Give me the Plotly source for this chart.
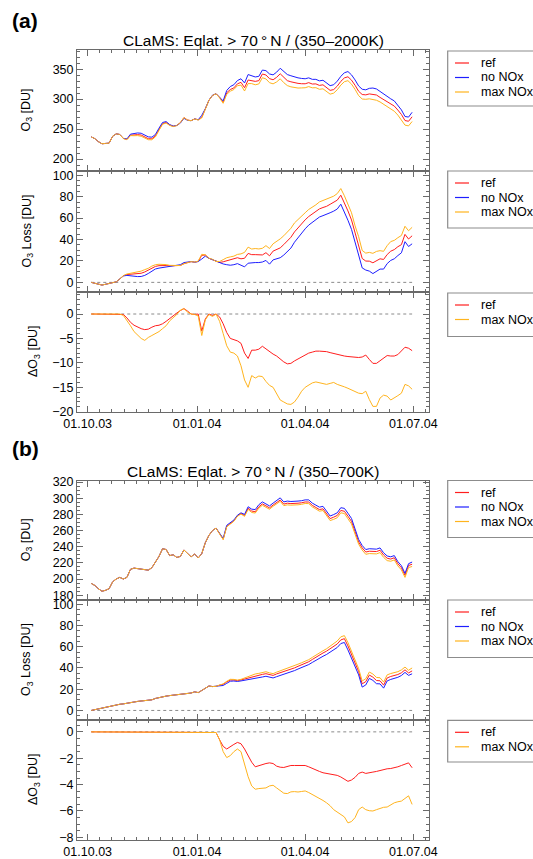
import pandas as pd
import plotly.graph_objects as go

# ---------------- data (3-day sampling, 2003-10-04 ... 2004-06-30) ----------------
dates = pd.date_range("2003-10-04", periods=91, freq="3D")

# (a) 350-2000K
a_o3_nonox = [237, 234, 229, 225.5, 226, 226.5, 238, 242, 241, 234.5,
              233.5, 241.5, 242.5, 243.5, 243, 240.5, 237, 236.5, 241, 251.5,
              261, 262.5, 257.5, 255, 256, 260, 268, 264.5, 264, 267,
              265.5, 273, 284, 298, 306.5, 309, 303.5, 297, 314.5, 321,
              324, 331, 334, 327, 341, 338.5, 337, 338, 348.5, 347.5,
              342, 340.5, 345, 351.5, 345.5, 341, 339, 337, 335.5, 334.5,
              334, 335.5, 333, 333, 330.5, 331.5, 327, 322.5, 324, 330,
              338, 344, 346, 340.5, 332, 322, 316.5, 315.5, 318, 318.5,
              317, 312.5, 308, 304, 300.5, 297, 290, 282, 271, 270,
              278]
a_o3_ref = [237, 234, 229, 225.5, 226, 226.5, 238, 242, 241, 234.4,
            232.7, 239.8, 240.2, 240.8, 240, 237.3, 233.9, 233.8, 238.6, 249.2,
            259, 261, 256.6, 254.6, 256.2, 260.7, 269.1, 265.1, 264, 266.9,
            265.5, 269.5, 283, 298, 306.2, 309, 302.9, 295, 310.7, 316,
            318.7, 325.5, 328, 319, 331.9, 331.1, 329.6, 330.8, 341.9, 340.3,
            334.2, 332.3, 336.4, 342.3, 335.7, 330.8, 328.9, 327.4, 326.3, 325.7,
            325.6, 327.5, 325.2, 325.4, 322.9, 323.9, 319.3, 314.6, 315.9, 321.7,
            329.6, 335.4, 337.3, 331.7, 323.1, 313.1, 307.7, 307.1, 308.7, 308.4,
            306.9, 302.9, 299, 295.5, 291.9, 288.4, 281.7, 274.4, 264.2, 263,
            270.5]
a_o3_maxnox = [237, 234, 229, 225.5, 226, 226.5, 238, 242, 241, 234.2,
               232.2, 239.1, 238.9, 239.1, 238, 235.1, 232.2, 232.1, 237, 247.9,
               258, 260.1, 256.1, 254.2, 255.9, 260.8, 269.1, 264.9, 264, 266.9,
               265.1, 268.6, 282.8, 297.9, 306, 309, 302, 293, 308, 313.2,
               316, 322.4, 323.4, 313.5, 326, 325.9, 323.9, 325.3, 335.7, 333.7,
               327.4, 325.5, 328.7, 333.9, 327.5, 322.6, 320.5, 319, 318.5, 318.7,
               319, 320.9, 318.9, 319.1, 316.4, 317.2, 312.6, 308.3, 310, 315.6,
               323.4, 329.1, 330.8, 325, 316.2, 305.8, 300.2, 299.7, 300.5, 299.6,
               298.1, 295.3, 291.4, 287.2, 282.9, 279.8, 273.3, 265.8, 256.6, 255.3,
               262.6]

a_loss_nonox = [0, -0.6, -1.2, -2.5, -1.8, -0.8, -0.3, 0.5, 3.2, 6.0,
                6.5, 6.0, 5.6, 5.4, 5.5, 6.5, 8.3, 10.8, 12.5, 13.3,
                13.8, 14.2, 14.5, 15, 15.5, 16.5, 18.5, 19, 19.4, 18.8,
                19.5, 21.8, 24.5, 22.5, 21, 19.5, 18, 17.2, 16.5, 16,
                16.5, 17.5, 16, 14.5, 17.9, 18.5, 18.5, 18.5, 19, 20.5,
                17, 21, 21.8, 23, 25.5, 28.5, 32, 37.5, 42, 46.5,
                50, 53.5, 56, 58.5, 61, 62.3, 63.3, 65, 66.5, 68.5,
                73, 66, 58, 49.5, 37, 26.5, 13.5, 11.5, 10.5, 8.2,
                10, 12.4, 12.4, 17.5, 20.5, 22, 25, 27.6, 38, 33.5,
                36]
a_loss_ref = [0, -0.6, -1.2, -2.5, -1.8, -0.8, -0.3, 0.5, 3.2, 6.1,
              7.3, 7.7, 7.9, 8.1, 8.5, 9.7, 11.4, 13.5, 14.9, 15.6,
              15.8, 15.7, 15.4, 15.4, 15.3, 15.8, 17.4, 18.4, 19.4, 18.9,
              19.5, 25.3, 25.5, 22.5, 21.3, 19.5, 18.6, 19.2, 20.3, 21,
              21.8, 23, 22, 22.5, 27, 25.9, 25.9, 25.7, 25.6, 27.7,
              24.8, 29.2, 30.4, 32.2, 35.3, 38.7, 42.1, 47.1, 51.2, 55.3,
              58.4, 61.5, 63.8, 66.1, 68.6, 69.9, 71, 72.9, 74.6, 76.8,
              81.4, 74.6, 66.7, 58.3, 45.9, 35.4, 22.3, 19.9, 19.8, 18.3,
              20.1, 22, 21.4, 26, 29.1, 30.6, 33.3, 35.2, 44.8, 40.5,
              43.5]
a_loss_maxnox = [0, -0.6, -1.2, -2.5, -1.8, -0.8, -0.3, 0.5, 3.2, 6.3,
                 7.8, 8.4, 9.2, 9.8, 10.5, 11.9, 13.1, 15.2, 16.5, 16.9,
                 16.8, 16.6, 15.9, 15.8, 15.6, 15.7, 17.4, 18.6, 19.4, 18.9,
                 19.9, 26.2, 25.7, 22.6, 21.5, 19.5, 19.5, 21.2, 23, 23.8,
                 24.5, 26.1, 26.6, 28, 32.9, 31.1, 31.6, 31.2, 31.8, 34.3,
                 31.6, 36, 38.1, 40.6, 43.5, 46.9, 50.5, 55.5, 59, 62.3,
                 65, 68.1, 70.1, 72.4, 75.1, 76.6, 77.7, 79.2, 80.5, 82.9,
                 87.6, 80.9, 73.2, 65, 52.8, 42.7, 29.8, 27.3, 28, 27.1,
                 28.9, 29.6, 29, 34.3, 38.1, 39.2, 41.7, 43.8, 52.4, 48.2,
                 51.4]

a_d_ref = [0, 0, 0, 0, 0, 0, 0, 0, 0, -0.1,
           -0.8, -1.7, -2.3, -2.7, -3.0, -3.2, -3.1, -2.7, -2.4, -2.3,
           -2.0, -1.5, -0.9, -0.4, 0.2, 0.7, 1.1, 0.6, 0, -0.1,
           0, -3.5, -1.0, 0, -0.3, 0, -0.6, -2.0, -3.8, -5.0,
           -5.3, -5.5, -6.0, -8.0, -9.1, -7.4, -7.4, -7.2, -6.6, -7.2,
           -7.8, -8.2, -8.6, -9.2, -9.8, -10.2, -10.1, -9.6, -9.2, -8.8,
           -8.4, -8.0, -7.8, -7.6, -7.6, -7.6, -7.7, -7.9, -8.1, -8.3,
           -8.4, -8.6, -8.7, -8.8, -8.9, -8.9, -8.8, -8.4, -9.3, -10.1,
           -10.1, -9.6, -9.0, -8.5, -8.6, -8.6, -8.3, -7.6, -6.8, -7.0,
           -7.5]
a_d_maxnox = [0, 0, 0, 0, 0, 0, 0, 0, 0, -0.3,
              -1.3, -2.4, -3.6, -4.4, -5.0, -5.4, -4.8, -4.4, -4.0, -3.6,
              -3.0, -2.4, -1.4, -0.8, -0.1, 0.8, 1.1, 0.4, 0, -0.1,
              -0.4, -4.4, -1.2, -0.1, -0.5, 0, -1.5, -4.0, -6.5, -7.8,
              -8.0, -8.6, -10.6, -13.5, -15.0, -12.6, -13.1, -12.7, -12.8, -13.8,
              -14.6, -15.0, -16.3, -17.6, -18.0, -18.4, -18.5, -18.0, -17.0, -15.8,
              -15.0, -14.6, -14.1, -13.9, -14.1, -14.3, -14.4, -14.2, -14.0, -14.4,
              -14.6, -14.9, -15.2, -15.5, -15.8, -16.2, -16.3, -15.8, -17.5, -18.9,
              -18.9, -17.2, -16.6, -16.8, -17.6, -17.2, -16.7, -16.2, -14.4, -14.7,
              -15.4]

# (b) 350-700K
b_o3_nonox = [194.5, 192, 188, 184.8, 186, 188, 196.5, 200, 202, 200,
              202, 212, 213.5, 213, 212.5, 212, 211, 214, 221, 228,
              237.5, 236.5, 229, 230, 226.7, 228, 236, 232, 227.5, 231,
              226, 231.5, 245, 254, 260, 263, 257.1, 250.3, 266.5, 270,
              273, 279, 282, 280, 289.5, 286.5, 286, 292, 295.5, 293,
              290.5, 294, 297, 300.5, 295.5, 296.5, 296, 296, 296.5, 297,
              298, 298, 294, 291.5, 289, 290, 284.5, 278, 279.8, 282,
              288.3, 287.5, 281.5, 275, 262, 249, 241.5, 236.5, 237.5, 237,
              237, 238.5, 232.5, 228.5, 227.5, 229, 221.5, 216.5, 207, 219,
              221]
b_o3_ref = [194.5, 192, 188, 184.8, 186, 188, 196.5, 200, 202, 200,
            202, 212, 213.5, 213, 212.5, 212, 211, 214, 221, 228,
            237.5, 236.5, 229, 230, 226.7, 228, 236, 232, 227.5, 231,
            226, 231.5, 245, 254, 260, 263, 256.5, 249.2, 265.2, 268.9,
            272, 278.2, 281.1, 278.7, 287.6, 284.2, 283.3, 289.4, 293, 290.6,
            288.1, 291.6, 294.4, 297.8, 292.8, 293.9, 293.4, 293.4, 293.9, 294.4,
            295.4, 295.3, 291.2, 288.6, 286, 286.9, 281.3, 274.8, 276.6, 278.7,
            284.9, 283.9, 277.8, 271.4, 258.6, 245.9, 238.5, 233.4, 234.4, 234,
            234, 235.6, 229.7, 225.7, 224.7, 226.3, 218.9, 214, 204.6, 216.7,
            218.3]
b_o3_maxnox = [194.5, 192, 188, 184.8, 186, 188, 196.5, 200, 202, 200,
               202, 212, 213.5, 213, 212.5, 212, 211, 214, 221, 228,
               237.5, 236.5, 229, 230, 226.7, 228, 236, 232, 227.5, 231,
               226, 231.5, 245, 254, 260, 263, 256.5, 248.8, 264.6, 268.2,
               271.5, 277.7, 280.5, 277.6, 286.1, 282.4, 281.7, 287.7, 291.3, 288.8,
               286.4, 290, 292.8, 296.1, 290.9, 291.8, 291.5, 291.5, 291.9, 292.5,
               293.5, 293.4, 289.3, 286.7, 284, 284.8, 279.1, 272.4, 273.9, 275.9,
               282, 281.1, 274.6, 268.2, 255.5, 243.1, 235.8, 230.6, 231.5, 231,
               231.1, 232.7, 226.8, 222.8, 222, 223.6, 216.2, 211.3, 202, 214.2,
               215.5]

b_loss_nonox = [0, 0.8, 1.7, 2.4, 3.0, 3.9, 4.6, 5.3, 5.8, 6.2,
                6.9, 7.5, 8.0, 8.5, 8.9, 9.2, 9.4, 10.0, 11.3, 12.2,
                13.0, 13.5, 14.0, 14.3, 14.6, 15.2, 15.9, 16.0, 16.4, 17.5,
                16.8, 18.8, 21, 23, 22.5, 22.6, 23.3, 23.5, 25.5, 27.5,
                27.7, 27.3, 27.8, 28.3, 28.8, 29.3, 30, 30.6, 31.5, 32.2,
                31.3, 30.6, 31.8, 32.8, 34, 34.9, 36, 37.5, 39, 40.4,
                41.6, 43.2, 45.2, 47.3, 49.5, 51, 52.7, 55, 57.5, 59.3,
                63, 64, 57, 49.5, 42, 33.5, 22, 24, 30.2, 28.3,
                25.2, 25, 21, 27.8, 29.2, 29.9, 31.2, 32.9, 35.8, 33,
                34.5]
b_loss_ref = [0, 0.8, 1.7, 2.4, 3.0, 3.9, 4.6, 5.3, 5.8, 6.2,
              6.9, 7.5, 8.0, 8.5, 8.9, 9.2, 9.4, 10.0, 11.3, 12.2,
              13.0, 13.5, 14.0, 14.3, 14.6, 15.2, 15.9, 16.0, 16.4, 17.5,
              16.8, 18.8, 21, 23, 22.5, 22.65, 23.9, 24.6, 26.8, 28.6,
              28.65, 28.1, 28.7, 29.6, 30.65, 31.6, 32.65, 33.15, 33.95, 34.6,
              33.65, 33, 34.4, 35.48, 36.7, 37.52, 38.55, 40.05, 41.55, 42.95,
              44.15, 45.85, 47.98, 50.2, 52.5, 54.1, 55.86, 58.2, 60.73, 62.6,
              66.42, 67.6, 60.75, 53.15, 45.45, 36.65, 25.05, 27.15, 33.32, 31.35,
              28.2, 27.92, 23.85, 30.6, 31.98, 32.64, 33.85, 35.45, 38.25, 35.35,
              37.22]
b_loss_maxnox = [0, 0.8, 1.7, 2.4, 3.0, 3.9, 4.6, 5.3, 5.8, 6.2,
                 6.9, 7.5, 8.0, 8.5, 8.9, 9.2, 9.4, 10.0, 11.3, 12.2,
                 13.0, 13.5, 14.0, 14.3, 14.6, 15.2, 15.9, 16.0, 16.4, 17.5,
                 16.8, 18.8, 21, 23, 22.5, 22.65, 23.9, 25, 27.45, 29.3,
                 29.2, 28.6, 29.3, 30.7, 32.2, 33.4, 34.35, 34.9, 35.75, 36.45,
                 35.4, 34.65, 36.05, 37.25, 38.65, 39.58, 40.55, 42.03, 43.56, 44.92,
                 46.08, 47.8, 49.95, 52.15, 54.55, 56.2, 58.08, 60.6, 63.4, 65.4,
                 69.28, 70.45, 63.9, 56.3, 48.5, 39.4, 27.7, 29.9, 36.18, 34.3,
                 31.1, 30.78, 26.72, 33.5, 34.75, 35.28, 36.5, 38.15, 40.85, 37.85,
                 40]

b_d_ref = [0] * 30 + [
    0, 0, 0, 0, 0, -0.05, -0.6, -1.1, -1.3, -1.1,
    -0.95, -0.8, -0.9, -1.3, -1.85, -2.3, -2.65, -2.55, -2.45, -2.4,
    -2.35, -2.4, -2.6, -2.68, -2.7, -2.62, -2.55, -2.55, -2.55, -2.55,
    -2.55, -2.65, -2.78, -2.9, -3.0, -3.1, -3.16, -3.2, -3.23, -3.3,
    -3.42, -3.6, -3.75, -3.65, -3.45, -3.15, -3.05, -3.15, -3.12, -3.05,
    -3.0, -2.92, -2.85, -2.8, -2.78, -2.74, -2.65, -2.55, -2.45, -2.35,
    -2.72]
b_d_maxnox = [0] * 30 + [
    0, 0, 0, 0, 0, -0.05, -0.6, -1.5, -1.95, -1.8,
    -1.5, -1.3, -1.5, -2.4, -3.4, -4.1, -4.35, -4.3, -4.25, -4.25,
    -4.1, -4.05, -4.25, -4.45, -4.65, -4.68, -4.55, -4.53, -4.56, -4.52,
    -4.48, -4.6, -4.75, -4.85, -5.05, -5.2, -5.38, -5.6, -5.9, -6.1,
    -6.28, -6.45, -6.9, -6.8, -6.5, -5.9, -5.7, -5.9, -5.98, -6.0,
    -5.9, -5.78, -5.72, -5.7, -5.55, -5.38, -5.3, -5.25, -5.05, -4.85,
    -5.5]

major_dates = ["2003-10-01", "2004-01-01", "2004-04-01", "2004-07-01"]
major_labels = ["01.10.03", "01.01.04", "01.04.04", "01.07.04"]
titles = ["CLaMS: Eqlat. > 70\u2009°\u2009N / (350–2000K)",
          "CLaMS: Eqlat. > 70\u2009°\u2009N / (350–700K)"]
names3 = ["ref", "no NOx", "max NOx"]
names2 = ["ref", "max NOx"]

# ---------------- styling / geometry ----------------
W, H = 533, 859
RED, BLUE, ORANGE = "#ff1e1e", "#1e1eff", "#ffb41e"
FRAME = "#6a6a6a"
FONT = "Liberation Sans, Arial, sans-serif"
FS = 12.5


def px(x):
    return x / W


def py(y):
    return 1 - y / H


X_LEFT, X_RIGHT = 77, 429
# (top, bottom) in pixels for 6 panels
panel_px = [(50, 171), (171, 292), (292, 412), (480.5, 600), (600, 720), (720, 840)]
y_ranges = [[180, 382], [-9, 104], [-20.05, 4.5],
            [174, 322], [-9, 104], [-8.2, 0.9]]
y_ticks = [(200, 50, 10), (0, 20, 5), (0, 5, 1),
           (180, 20, 5), (0, 20, 5), (0, 2, 0.5)]
y_titles = ["O<sub>3</sub> [DU]", "O<sub>3</sub> Loss [DU]", "ΔO<sub>3</sub> [DU]"] * 2
y_title_x = [27, 27, 34, 27, 27, 34]

mj = pd.to_datetime(major_dates)
minor_vals = [mj[0] - (mj[1] - mj[0]) / 9]
for a, b in zip(mj[:-1], mj[1:]):
    step = (b - a) / 9
    minor_vals += [a + k * step for k in range(1, 9)]
minor_vals.append(mj[-1] + (mj[-1] - mj[-2]) / 9)
minor_vals = [t.strftime("%Y-%m-%d %H:%M:%S") for t in minor_vals]

fig = go.Figure()

series = [
    [(a_o3_ref, RED), (a_o3_nonox, BLUE), (a_o3_maxnox, ORANGE)],
    [(a_loss_ref, RED), (a_loss_nonox, BLUE), (a_loss_maxnox, ORANGE)],
    [(a_d_ref, RED), (a_d_maxnox, ORANGE)],
    [(b_o3_ref, RED), (b_o3_nonox, BLUE), (b_o3_maxnox, ORANGE)],
    [(b_loss_ref, RED), (b_loss_nonox, BLUE), (b_loss_maxnox, ORANGE)],
    [(b_d_ref, RED), (b_d_maxnox, ORANGE)],
]

layout = dict(width=W, height=H, margin=dict(l=0, r=0, t=0, b=0, autoexpand=False),
              paper_bgcolor="white", plot_bgcolor="white", showlegend=False,
              font=dict(family=FONT, size=FS, color="black"))

for i in range(6):
    n = i + 1
    sx = "" if n == 1 else str(n)
    xr, yr = "x" + sx, "y" + sx
    top, bot = panel_px[i]
    if i in (1, 2, 4, 5):
        fig.add_trace(go.Scatter(x=[dates[0], dates[-1]], y=[0, 0], mode="lines",
                                 line=dict(color="#8a8a8a", width=1, dash="dot"),
                                 xaxis=xr, yaxis=yr, hoverinfo="skip"))
    for vals, col in series[i]:
        fig.add_trace(go.Scatter(x=dates, y=vals, mode="lines",
                                 line=dict(color=col, width=1),
                                 xaxis=xr, yaxis=yr, hoverinfo="skip"))
    layout["xaxis" + sx] = dict(
        domain=[px(X_LEFT), px(X_RIGHT)], anchor=yr, type="date",
        range=["2003-09-22", "2004-07-14 05:00"],
        tickmode="array", tickvals=major_dates, ticktext=major_labels,
        showticklabels=(i in (2, 5)), ticks="inside", ticklen=6, tickwidth=1,
        tickcolor=FRAME, showline=True, linecolor=FRAME, linewidth=1,
        mirror="ticks", showgrid=False, zeroline=False,
        tickfont=dict(family=FONT, size=FS, color="black"),
        minor=dict(tickmode="array", tickvals=minor_vals, ticks="inside",
                   ticklen=3, tickcolor=FRAME, tickwidth=1, showgrid=False))
    t0, dt, mdt = y_ticks[i]
    layout["yaxis" + sx] = dict(
        domain=[py(bot), py(top)], anchor=xr, range=y_ranges[i],
        tick0=t0, dtick=dt, ticks="inside", ticklen=6, tickwidth=1,
        tickcolor=FRAME, showline=True, linecolor=FRAME, linewidth=1,
        mirror="ticks", showgrid=False, zeroline=False,
        tickfont=dict(family=FONT, size=FS, color="black"),
        minor=dict(tick0=t0, dtick=mdt, ticks="inside", ticklen=3,
                   tickcolor=FRAME, tickwidth=1, showgrid=False))

annotations = []
shapes = []

# panel letters and titles
for lab, ly in (("(a)", 20.5), ("(b)", 449)):
    annotations.append(dict(text="<b>" + lab + "</b>", x=px(10), y=py(ly), xref="paper", yref="paper",
                            xanchor="left", yanchor="middle", showarrow=False,
                            font=dict(family=FONT, size=21, color="black")))
for t, ty in zip(titles, (40.8, 471)):
    annotations.append(dict(text=t, x=px(253), y=py(ty), xref="paper", yref="paper",
                            xanchor="center", yanchor="middle", showarrow=False,
                            font=dict(family=FONT, size=15.5, color="black")))

# y-axis titles
for i in range(6):
    top, bot = panel_px[i]
    annotations.append(dict(text=y_titles[i], x=px(y_title_x[i]), y=py((top + bot) / 2),
                            xref="paper", yref="paper", xanchor="center", yanchor="middle",
                            textangle=-90, showarrow=False,
                            font=dict(family=FONT, size=FS, color="black")))

# legend boxes (drawn)
legend_specs = [
    (51, 106, names3, [RED, BLUE, ORANGE]),
    (171, 228, names3, [RED, BLUE, ORANGE]),
    (293, 336.5, names2, [RED, ORANGE]),
    (480.5, 537.5, names3, [RED, BLUE, ORANGE]),
    (600, 657.5, names3, [RED, BLUE, ORANGE]),
    (720.3, 762, names2, [RED, ORANGE]),
]
for top, bot, nms, cols in legend_specs:
    shapes.append(dict(type="rect", xref="paper", yref="paper",
                       x0=px(447.7), x1=px(580), y0=py(bot), y1=py(top),
                       line=dict(color="#8c8c8c", width=1.2)))
    for k, (nm, c) in enumerate(zip(nms, cols)):
        yc = top + 12 + 14.5 * k
        shapes.append(dict(type="line", xref="paper", yref="paper",
                           x0=px(455), x1=px(469), y0=py(yc), y1=py(yc),
                           line=dict(color=c, width=1.2)))
        annotations.append(dict(text=nm, x=px(478.5), y=py(yc), xref="paper", yref="paper",
                                xanchor="left", yanchor="middle", showarrow=False,
                                font=dict(family=FONT, size=FS, color="black")))

layout["annotations"] = annotations
layout["shapes"] = shapes
fig.update_layout(**layout)
fig.write_html("out.html",
               config={"displayModeBar": False, "staticPlot": True},
               post_script="document.body.style.margin='0px';"
                           "document.body.style.padding='0px';"
                           "document.body.style.overflow='hidden';")
